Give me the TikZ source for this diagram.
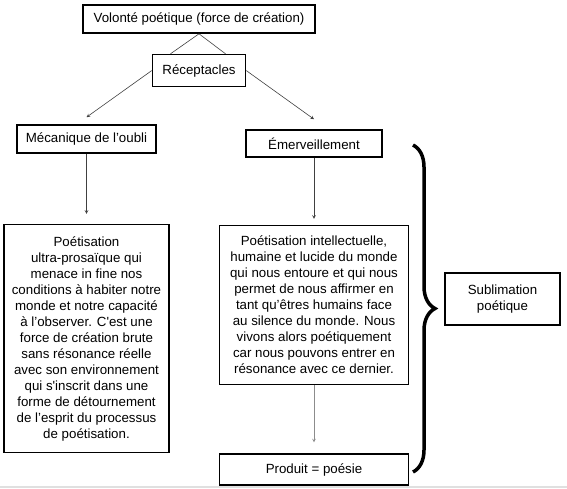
\documentclass[tikz,border=0pt]{standalone}
\usepackage{fontspec}
\setmainfont{Liberation Sans}
\usetikzlibrary{positioning, arrows, decorations.pathreplacing}
\tikzset{
    >=stealth, % small arrow heads
    every node/.style={font=\fontsize{13.3}{16}\selectfont}, % text size of the boxes
}

\begin{document}
\begin{tikzpicture}[
                                x=1pt, y=1pt,
                                styleBox/.style={draw, line width=1.6pt, align=center, inner sep=2pt},
                                styleLink/.style={->, line width=0.6pt, draw=black!75},
                            ]
                            \useasboundingbox (0,0) rectangle (567,-488);
                            \node[styleBox, minimum width=232pt, minimum height=28pt] (vol) at (199,-19) {Volonté poétique (force de création)};
                            \node[styleBox, minimum width=93pt, minimum height=32pt, below=20pt of vol] (rec) {Réceptacles};
                            \node[styleBox, minimum width=139pt, minimum height=28pt] (meca) at (86.5,-139) {Mécanique de l’oubli};
                            \node[styleBox, minimum width=136pt, minimum height=27pt] (emer) at (314,-143.5) {Émerveillement};
                            \node[styleBox, minimum width=165pt, minimum height=228pt, below=70pt of meca] (poeL) {Poétisation\\ultra-prosaïque qui\\menace in fine nos\\conditions à habiter notre\\monde et notre capacité\\à l’observer. C\textquotesingle est une\\force de création brute\\sans résonance réelle\\avec son environnement\\qui s\textquotesingle inscrit dans une\\forme de détournement\\de l’esprit du processus\\de poétisation.};
                            \node[styleBox, minimum width=189pt, minimum height=159pt, below=67pt of emer] (poeR) {Poétisation intellectuelle,\\humaine et lucide du monde\\qui nous entoure et qui nous\\permet de nous affirmer en\\tant qu’êtres humains face\\au silence du monde. Nous\\vivons alors poétiquement\\car nous pouvons entrer en\\résonance avec ce dernier.};
                            \node[styleBox, minimum width=189pt, minimum height=31pt, below=68pt of poeR] (prod) {Produit = poésie};
                            \node[styleBox, minimum width=115pt, minimum height=52pt] (subl) at (502.5,-299) {Sublimation\\poétique};
                            \coordinate (braceTop) at (413,-145);
                            \coordinate (braceBot) at (413,-472);
                            \draw[line width=0.6pt, draw=black!75]
                            (vol.south) -- ([xshift=-28.5pt]rec.north)
                            (vol.south) -- ([xshift=26.5pt]rec.north);
                            \draw
                            (rec.west) edge[styleLink] ([yshift=7pt]meca.north)
                            (rec.east) edge[styleLink] ([yshift=10pt]emer.north)
                            (meca.south) edge[styleLink] ([yshift=10pt]poeL.north)
                            (emer.south) edge[styleLink] ([yshift=6pt]poeR.north)
                            (poeR.south) edge[styleLink, draw=black!45] ([yshift=11pt]prod.north);
                            \draw[line width=3.5pt, decorate, decoration={brace, amplitude=22pt}] (braceTop) -- (braceBot);
                            \fill[black!12] (0,-486) rectangle (567,-488);
                        \end{tikzpicture}
\end{document}
